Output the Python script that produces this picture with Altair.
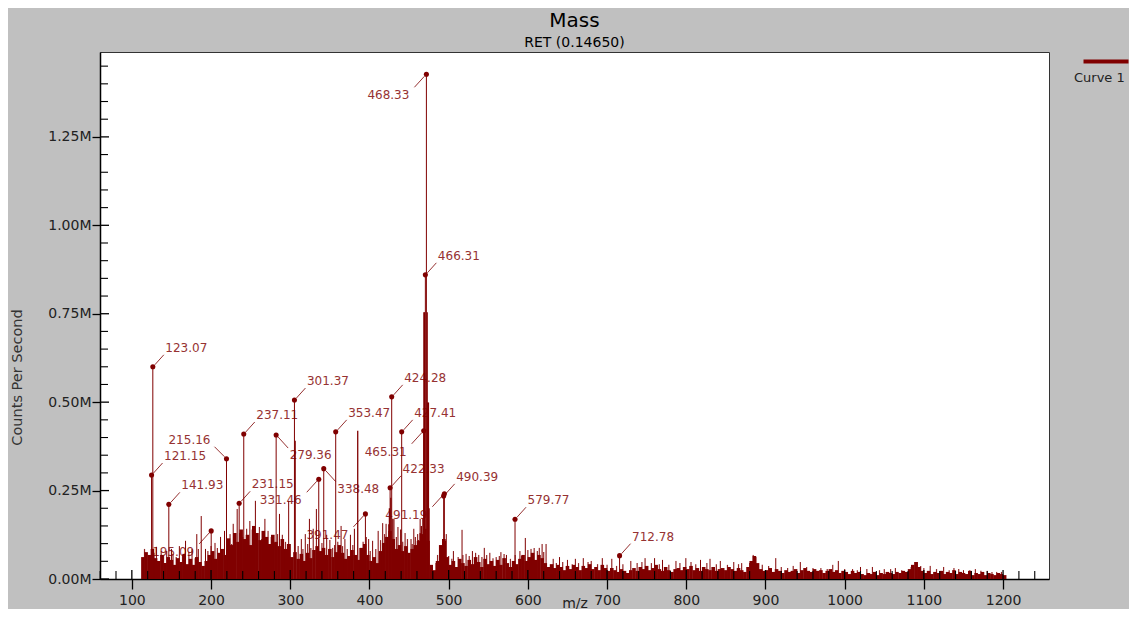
import altair as alt
import pandas as pd

# ---------------- data ----------------
noise_mz = [
    114, 118, 122, 126, 130, 134, 138, 142, 146, 150, 154, 158, 162, 166, 170, 174, 178, 182, 186, 190, 194, 198,
    202, 206, 210, 214, 218, 222, 226, 230, 234, 238, 242, 246, 250, 254, 258, 262, 266, 270, 274, 278, 282, 286, 290, 294, 298,
    302, 306, 310, 314, 318, 322, 326, 330, 334, 338, 342, 346, 350, 354, 358, 362, 366, 370, 374, 378, 382, 386, 390, 394, 398,
    402, 406, 410, 414, 418, 422, 426, 430, 434, 438, 442, 446, 450, 454, 458, 462, 466, 470, 474, 478, 482, 486, 490, 494, 498,
    502, 506, 510, 514, 518, 522, 526, 530, 534, 538, 542, 546, 550, 554, 558, 562, 566, 570, 574, 578, 582, 586, 590, 594, 598,
    602, 606, 610, 614, 618, 622, 626, 630, 634, 638, 642, 646, 650, 654, 658, 662, 666, 670, 674, 678, 682, 686, 690, 694, 698,
    702, 706, 710, 714, 718, 722, 726, 730, 734, 738, 742, 746, 750, 754, 758, 762, 766, 770, 774, 778, 782, 786, 790, 794, 798,
    802, 806, 810, 814, 818, 822, 826, 830, 834, 838, 842, 846, 850, 854, 858, 862, 866, 870, 874, 878, 882, 886, 890, 894, 898,
    902, 906, 910, 914, 918, 922, 926, 930, 934, 938, 942, 946, 950, 954, 958, 962, 966, 970, 974, 978, 982, 986, 990, 994, 998,
    1002, 1006, 1010, 1014, 1018, 1022, 1026, 1030, 1034, 1038, 1042, 1046, 1050, 1054, 1058, 1062, 1066, 1070, 1074, 1078, 1082, 1086, 1090, 1094, 1098,
    1102, 1106, 1110, 1114, 1118, 1122, 1126, 1130, 1134, 1138, 1142, 1146, 1150, 1154, 1158, 1162, 1166, 1170, 1174, 1178, 1182, 1186, 1190, 1194, 1198, 1202,
]
noise_val = [
    62000, 76000, 68000, 85000, 59000, 51000, 68000, 45000, 62000, 54000, 40000, 59000, 48000, 71000, 42000, 57000, 40000, 62000, 48000, 37000, 51000, 68000,
    79000, 57000, 74000, 85000, 68000, 115000, 96000, 130000, 105000, 140000, 113000, 125000, 96000, 150000, 130000, 110000, 136000, 119000, 99000, 125000, 105000, 93000, 113000, 85000, 99000,
    62000, 76000, 57000, 71000, 51000, 74000, 59000, 82000, 93000, 79000, 88000, 68000, 85000, 62000, 76000, 96000, 74000, 57000, 65000, 82000, 68000, 54000, 88000, 99000, 68000,
    51000, 62000, 45000, 79000, 102000, 119000, 136000, 113000, 85000, 96000, 79000, 93000, 74000, 85000, 96000, 108000, 127000, 142000, 108000, 40000, 25000, 51000, 96000, 113000, 62000,
    40000, 51000, 34000, 57000, 45000, 37000, 54000, 42000, 62000, 48000, 34000, 57000, 42000, 51000, 37000, 54000, 40000, 59000, 45000, 34000, 51000, 42000, 57000, 68000, 51000,
    62000, 74000, 54000, 68000, 59000, 45000, 34000, 42000, 31000, 40000, 34000, 25000, 37000, 28000, 40000, 34000, 25000, 37000, 31000, 42000, 28000, 34000, 25000, 40000, 31000,
    23000, 31000, 25000, 20000, 28000, 23000, 17000, 25000, 31000, 23000, 34000, 28000, 37000, 25000, 31000, 40000, 28000, 23000, 34000, 25000, 20000, 28000, 31000, 25000, 34000,
    28000, 37000, 25000, 31000, 23000, 34000, 28000, 25000, 34000, 23000, 28000, 31000, 25000, 34000, 28000, 23000, 31000, 25000, 20000, 34000, 51000, 65000, 45000, 28000, 23000,
    25000, 31000, 20000, 28000, 23000, 17000, 25000, 20000, 23000, 28000, 17000, 25000, 31000, 23000, 20000, 28000, 23000, 25000, 17000, 23000, 28000, 20000, 25000, 17000, 23000,
    20000, 14000, 23000, 17000, 20000, 14000, 11000, 17000, 14000, 20000, 11000, 17000, 14000, 20000, 17000, 14000, 20000, 17000, 23000, 20000, 28000, 40000, 48000, 34000, 23000,
    17000, 23000, 14000, 20000, 17000, 23000, 14000, 20000, 17000, 25000, 14000, 20000, 17000, 14000, 23000, 11000, 17000, 14000, 20000, 11000, 17000, 14000, 11000, 17000, 14000, 11000,
]

spike_mz = [
    131, 137, 150, 160, 167.8, 176, 182, 187.6, 193, 205, 212, 217, 224, 228, 233, 245, 249, 256, 261, 268,
    272, 286.4, 290, 298, 314, 319, 324.2, 329, 333, 346, 353.6, 364.2, 369, 376, 381, 399, 404, 411, 416.7, 421,
    431, 436, 445, 452.5, 456, 460.9, 464, 489, 497, 506, 516.9, 522, 530, 538, 545, 552, 560, 566, 573, 590,
    596.8, 604, 614.4, 618, 623, 632, 640, 650, 660, 670, 680, 694, 706, 730, 748, 760, 770, 787, 799.5, 818,
    830, 843, 860, 870, 884.5, 888, 913, 935, 944, 970, 985, 992, 1010, 1020, 1035, 1050, 1064, 1091.8, 1100, 1108,
    1125, 1138, 1150, 1165, 1180, 1192,
]
spike_val = [
    91000, 79000, 85000, 93000, 108000, 85000, 127000, 178000, 85000, 102000, 119000, 136000, 127000, 156000, 198000, 142000, 164000, 221000, 147000, 170000,
    136000, 184000, 125000, 221000, 113000, 127000, 170000, 142000, 198000, 125000, 88000, 150000, 113000, 125000, 142000, 113000, 108000, 136000, 158000, 156000,
    170000, 147000, 130000, 113000, 142000, 127000, 170000, 85000, 127000, 79000, 139000, 71000, 79000, 68000, 88000, 74000, 62000, 76000, 68000, 79000,
    116000, 85000, 88000, 99000, 99000, 57000, 62000, 54000, 57000, 59000, 51000, 59000, 57000, 51000, 59000, 59000, 54000, 51000, 59000, 54000,
    57000, 51000, 48000, 45000, 68000, 62000, 59000, 37000, 48000, 31000, 40000, 51000, 28000, 34000, 34000, 28000, 31000, 48000, 31000, 37000,
    34000, 31000, 25000, 28000, 23000, 20000,
]

# finer jagged texture between the noise columns
texture_mz = [
    116, 128, 140, 144, 152, 156, 164, 172, 180, 184, 196, 200, 208, 220, 226, 236, 240, 252, 258, 264,
    276, 280, 284, 294, 300, 310, 316, 322, 326, 336, 340, 350, 356, 360, 366, 372, 379, 388, 392, 396,
    401, 408, 414, 419, 434, 442, 448, 454, 458, 484, 486, 500, 504, 512, 518, 526, 534, 542, 548, 556,
    564, 570, 578, 584, 592, 600, 608, 612, 620, 636, 644, 656, 664, 676, 688, 700, 712, 720, 738, 744,
    756, 766, 778, 792, 806, 812, 826, 838, 852, 866, 880, 896, 904, 920, 928, 952, 960, 978, 1000, 1016,
    1028, 1044, 1058, 1072, 1084, 1096, 1116, 1132, 1144, 1158, 1172, 1186, 1198,
]
texture_val = [
    85000, 74000, 65000, 79000, 71000, 62000, 68000, 76000, 59000, 85000, 79000, 93000, 88000, 110000, 99000, 130000, 119000, 140000, 127000, 113000,
    119000, 102000, 127000, 105000, 99000, 93000, 85000, 99000, 88000, 113000, 102000, 110000, 96000, 105000, 93000, 85000, 96000, 88000, 105000, 119000,
    79000, 85000, 110000, 127000, 119000, 105000, 113000, 99000, 119000, 45000, 68000, 65000, 57000, 62000, 68000, 65000, 74000, 62000, 68000, 59000,
    65000, 71000, 57000, 68000, 65000, 82000, 88000, 79000, 76000, 45000, 48000, 42000, 45000, 48000, 42000, 40000, 37000, 42000, 45000, 48000,
    45000, 42000, 40000, 45000, 48000, 42000, 45000, 42000, 40000, 42000, 45000, 40000, 37000, 34000, 31000, 34000, 31000, 28000, 28000, 25000,
    28000, 25000, 28000, 25000, 34000, 37000, 28000, 25000, 28000, 25000, 23000, 20000, 20000,
]

cluster_mz = [306.2, 385.2, 424.5, 425.2, 427.0, 429.5, 431.0, 439.5, 462.0, 464.0, 465.5, 466.5, 467.5,
              468.8, 469.5, 472.9, 473.6, 474.5, 475.3, 492.5, 496.0]
cluster_val = [391000, 419000, 155000, 200000, 230000, 170000, 100000, 140000, 110000, 130000, 150000, 120000, 170000,
               754000, 754000, 754000, 499000, 499000, 200000, 113000, 108000]

peak_mz = [124.9, 126.5, 146.7, 200.2, 219.5, 235.5, 241.3, 282.2, 305.3, 336.0, 342.3, 357.4,
           394.9, 426.1, 428.1, 440.7, 468.5, 470.6, 471.9, 493.7, 494.6, 583.8, 715.8]
peak_val = [294000, 600000, 211000, 136000, 340000, 214000, 410000, 407000, 506000, 282000, 312000, 416000,
            184000, 258000, 515000, 416000, 419000, 860000, 1427000, 235000, 241000, 169000, 66000]
peak_label = ["121.15", "123.07", "141.93", "195.09", "215.16", "231.15", "237.11", "279.36", "301.37", "331.46",
              "338.48", "353.47", "391.47", "422.33", "424.28", "427.41", "465.31", "466.31", "468.33", "490.39",
              "491.19", "579.77", "712.78"]
peak_side = ["ur", "ur", "ur", "dl", "ul", "ur", "ur", "dr", "ur", "dl", "dr", "ur",
             "dl", "ur", "ur", "ur", "dl", "ur", "dl", "ur", "dl", "ur", "ur"]

x_tick_values = [100, 200, 300, 400, 500, 600, 700, 800, 900, 1000, 1100, 1200]
y_tick_values = [0, 250000, 500000, 750000, 1000000, 1250000]
x_minor_values = [v for v in range(60, 1260, 20) if v % 100 != 0]
y_minor_values = [v for v in range(50000, 1490000, 50000) if v % 250000 != 0]

# ---------------- layout / style ----------------
W, H = 949, 527
X_DOMAIN = [59.8, 1258]
Y_DOMAIN = [0, 1490000]
XU = (X_DOMAIN[1] - X_DOMAIN[0]) / W   # data units per pixel
YU = (Y_DOMAIN[1] - Y_DOMAIN[0]) / H

FONT = "DejaVu Sans"
DARK = "#800000"
LABEL = "#963232"
TXT = "#222222"

xs = alt.Scale(domain=X_DOMAIN, nice=False, zero=False, padding=0)
ys = alt.Scale(domain=Y_DOMAIN, nice=False, zero=False, padding=0)

x_axis = alt.Axis(values=x_tick_values, format="d", title="m/z", grid=False,
                  tickSize=10, tickWidth=1.3, tickColor="black",
                  domainColor="black", domainWidth=1.5,
                  labelFont=FONT, labelFontSize=14, labelColor=TXT, labelPadding=4, labelFlush=False,
                  titleFont=FONT, titleFontSize=14, titleFontWeight="normal", titleColor=TXT,
                  titleY=17, titleBaseline="top")
y_axis = alt.Axis(values=y_tick_values, labelExpr="format(datum.value / 1000000, '.2f') + 'M'",
                  title="Counts Per Second", grid=False,
                  tickSize=8, tickWidth=1.3, tickColor="black",
                  domainColor="black", domainWidth=1.5,
                  labelFont=FONT, labelFontSize=14, labelColor=TXT, labelPadding=1,
                  titleFont=FONT, titleFontSize=14.5, titleFontWeight="normal", titleColor="#333333",
                  titleX=-83, titleY=325, titleAngle=270, titleAlign="center", titleBaseline="middle")


def X(f):
    return alt.X(f"{f}:Q", scale=xs, axis=x_axis)


def Y(f):
    return alt.Y(f"{f}:Q", scale=ys, axis=y_axis)


peaks = pd.DataFrame({"mz": peak_mz, "val": peak_val, "label": peak_label,
                      "side": peak_side, "series": ["Curve 1"] * len(peak_mz)})
noise = pd.DataFrame({"mz": noise_mz, "val": noise_val})
spikes = pd.DataFrame({"mz": spike_mz, "val": spike_val})
texture = pd.DataFrame({"mz": texture_mz, "val": texture_val})
cluster = pd.DataFrame({"mz": cluster_mz, "val": cluster_val})

# label placement around the dot: text offset (px) and leader line (px, y down)
SIDES = {
    "ur": dict(align="left", dx=12.5, dy=-19, a=(2, -2), b=(11, -12)),
    "ul": dict(align="right", dx=-16, dy=-19, a=(-2, -2), b=(-12, -12)),
    "dr": dict(align="left", dx=13.5, dy=20, a=(2, 2), b=(12, 13)),
    "dl": dict(align="right", dx=-17, dy=21, a=(-2, 2), b=(-12, 13)),
}

text_layers, leader_layers = [], []
for side, p in SIDES.items():
    base = alt.Chart(peaks).transform_filter(alt.datum.side == side)
    text_layers.append(
        base.mark_text(align=p["align"], baseline="middle", dx=p["dx"], dy=p["dy"],
                       font=FONT, fontSize=12, color=LABEL)
        .encode(x=X("mz"), y=Y("val"), text="label:N")
    )
    leader_layers.append(
        base.transform_calculate(
            lx1=f"datum.mz + ({p['a'][0] * XU})",
            ly1=f"datum.val - ({p['a'][1] * YU})",
            lx2=f"datum.mz + ({p['b'][0] * XU})",
            ly2=f"datum.val - ({p['b'][1] * YU})",
        )
        .mark_rule(color=LABEL, strokeWidth=1)
        .encode(x=X("lx1"), y=Y("ly1"), x2="lx2:Q", y2="ly2:Q")
    )

bars = alt.Chart(noise).mark_bar(color=DARK, size=3.6).encode(x=X("mz"), y=Y("val"), y2=alt.datum(0))
texture_rules = alt.Chart(texture).mark_rule(color=DARK, strokeWidth=1.2, opacity=0.85).encode(
    x=X("mz"), y=Y("val"), y2=alt.datum(0))
spike_rules = alt.Chart(spikes).mark_rule(color=DARK, strokeWidth=1).encode(x=X("mz"), y=Y("val"), y2=alt.datum(0))
cluster_rules = alt.Chart(cluster).mark_rule(color=DARK, strokeWidth=1.3).encode(x=X("mz"), y=Y("val"), y2=alt.datum(0))

legend = alt.Legend(orient="none", legendX=974, legendY=0, title="Curve 1", titleOrient="bottom",
                    titleFont=FONT, titleFontSize=13, titleFontWeight="normal", titleColor=TXT,
                    titlePadding=2, titleAnchor="start", labelExpr="''", labelOffset=0, labelFontSize=1,
                    symbolType="M0,0H6", symbolSize=225, symbolStrokeWidth=4, padding=0)
peak_rules = alt.Chart(peaks).mark_rule(strokeWidth=1).encode(
    x=X("mz"), y=Y("val"), y2=alt.datum(0),
    color=alt.Color("series:N", scale=alt.Scale(range=[DARK]), legend=legend),
)
dots = alt.Chart(peaks).mark_circle(color=DARK, size=26, opacity=1).encode(x=X("mz"), y=Y("val"))

# inward tick marks (axis ticks point outward, these complete them inside the frame)
yt = alt.Chart(pd.DataFrame({"t": y_tick_values})).mark_rule(color="black", strokeWidth=1.3).encode(
    y=Y("t"), x=alt.value(0), x2=alt.value(9))
ym = alt.Chart(pd.DataFrame({"t": y_minor_values})).mark_rule(color="black", strokeWidth=1.1).encode(
    y=Y("t"), x=alt.value(0), x2=alt.value(8))
xt = alt.Chart(pd.DataFrame({"t": x_tick_values})).mark_rule(color="black", strokeWidth=1.3).encode(
    x=X("t"), y=alt.value(H), y2=alt.value(H - 9))
xm = alt.Chart(pd.DataFrame({"t": x_minor_values})).mark_rule(color="black", strokeWidth=1.1).encode(
    x=X("t"), y=alt.value(H), y2=alt.value(H - 8))

chart = alt.layer(
    *text_layers, *leader_layers, bars, texture_rules, spike_rules, cluster_rules, peak_rules, dots,
    yt, ym, xt, xm
).properties(
    width=W, height=H,
    title=alt.TitleParams(text="Mass", subtitle="RET (0.14650)", anchor="middle", frame="group",
                          font=FONT, fontSize=20, fontWeight="normal", color="black",
                          subtitleFont=FONT, subtitleFontSize=14, subtitleColor="black",
                          subtitlePadding=5, offset=2),
    padding={"left": 92, "top": 44, "right": 80, "bottom": 30},
    autosize=alt.AutoSizeParams(type="none"),
    background="#c0c0c0",
).configure(font=FONT).configure_view(fill="white", stroke="#333333", strokeWidth=1)

chart.save("out.html", embed_options={"renderer": "svg", "actions": False})
